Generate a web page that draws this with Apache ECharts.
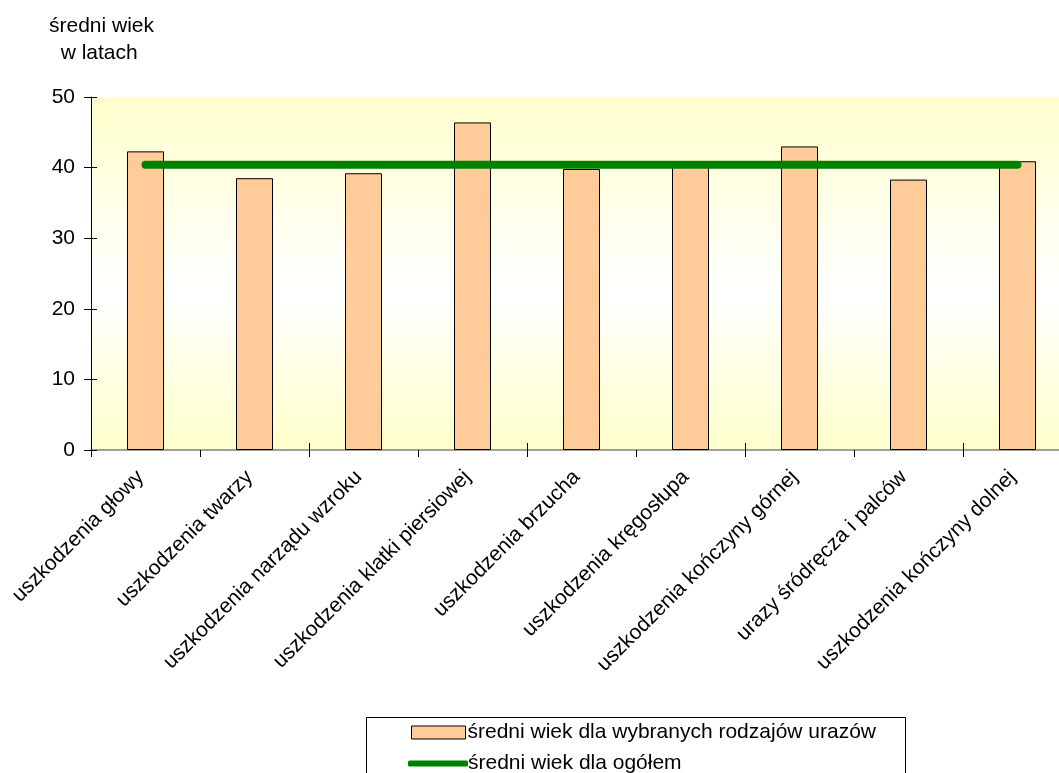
<!DOCTYPE html>
<html>
<head>
<meta charset="utf-8">
<script src="https://cdn.jsdelivr.net/npm/echarts@6/dist/echarts.min.js"></script>
<style>html,body{margin:0;padding:0;background:#fff}#c{width:1059px;height:773px}</style>
</head>
<body>
<div id="c"></div>
<script>
var categories = ['uszkodzenia głowy','uszkodzenia twarzy','uszkodzenia narządu wzroku','uszkodzenia klatki piersiowej','uszkodzenia brzucha','uszkodzenia kręgosłupa','uszkodzenia kończyny górnej','urazy śródręcza i palców','uszkodzenia kończyny dolnej'];
var barValues = [42.3, 38.5, 39.2, 46.4, 39.8, 40.1, 43.0, 38.3, 40.9];
var lineValues = [40.4, 40.4, 40.4, 40.4, 40.4, 40.4, 40.4, 40.4, 40.4];
var barName = 'średni wiek dla wybranych rodzajów urazów';
var lineName = 'średni wiek dla ogółem';
var yTitle = 'średni wiek\n  w latach';

var FONT = 'Liberation Sans, Arial, sans-serif';
var chart = echarts.init(document.getElementById('c'));
chart.setOption({
  animation: false,
  textStyle: {fontFamily: FONT, color: '#000'},
  title: {
    text: yTitle, left: 44, top: 8,
    textStyle: {fontFamily: FONT, fontSize: 21, fontWeight: 'normal', color: '#000', lineHeight: 27}
  },
  grid: {
    left: 91, top: 97, width: 981, bottom: 323, show: true, borderWidth: 0,
    containLabel: false, outerBoundsMode: 'none',
    backgroundColor: new echarts.graphic.LinearGradient(0, 0, 0, 1, [
      {offset: 0, color: '#FFFFCC'},
      {offset: 0.55, color: '#FFFFFF'},
      {offset: 1, color: '#FFFFCC'}
    ])
  },
  graphic: [{
    type: 'rect', left: 366, top: 717, shape: {width: 539, height: 80},
    style: {fill: '#fff', stroke: '#000', lineWidth: 1}, z: 0
  }],
  legend: [{
    data: [{name: barName, icon: 'rect'}],
    left: 411, top: 722, itemWidth: 54, itemHeight: 13, padding: 0,
    itemStyle: {borderWidth: 1, borderColor: '#000'},
    textStyle: {fontFamily: FONT, fontSize: 21, color: '#000', padding: [0, 0, 0, -3]}, z: 5
  }, {
    data: [{name: lineName, icon: 'roundRect'}],
    left: 408, top: 753, itemWidth: 60, itemHeight: 6, padding: 0,
    textStyle: {fontFamily: FONT, fontSize: 21, color: '#000', padding: [0, 0, 0, -5]}, z: 5
  }],
  xAxis: [{
    type: 'category', data: categories, boundaryGap: true,
    axisLine: {lineStyle: {color: '#808080', width: 1.5}},
    axisTick: {show: true, length: 7, lineStyle: {color: '#000'}},
    axisLabel: {rotate: 45, margin: 19, padding: [0, 7, 0, 0], fontSize: 21, color: '#000', fontFamily: FONT, interval: 0}
  }, {
    type: 'category', data: categories, boundaryGap: true, position: 'bottom',
    axisLine: {show: false},
    axisTick: {show: true, inside: true, length: 7, lineStyle: {color: '#000'}},
    axisLabel: {show: false}
  }],
  yAxis: [{
    type: 'value', min: 0, max: 50, interval: 10,
    splitLine: {show: false},
    axisLine: {show: true, lineStyle: {color: '#000', width: 1}},
    axisTick: {show: true, length: 7, lineStyle: {color: '#000'}},
    axisLabel: {margin: 16, fontSize: 21, color: '#000', fontFamily: FONT}
  }, {
    type: 'value', min: 0, max: 50, interval: 10, position: 'left',
    splitLine: {show: false},
    axisLine: {show: false},
    axisTick: {show: true, inside: true, length: 6, lineStyle: {color: '#000'}},
    axisLabel: {show: false}
  }],
  series: [{
    name: barName, type: 'bar', data: barValues, barWidth: 37,
    itemStyle: {color: '#FFCC99', borderColor: '#000', borderWidth: 1}, z: 2
  }, {
    name: lineName, type: 'line', data: lineValues, showSymbol: false, symbol: 'none',
    color: '#008000',
    lineStyle: {color: '#008000', width: 8, cap: 'round'}, z: 3
  }]
});
</script>
</body>
</html>
